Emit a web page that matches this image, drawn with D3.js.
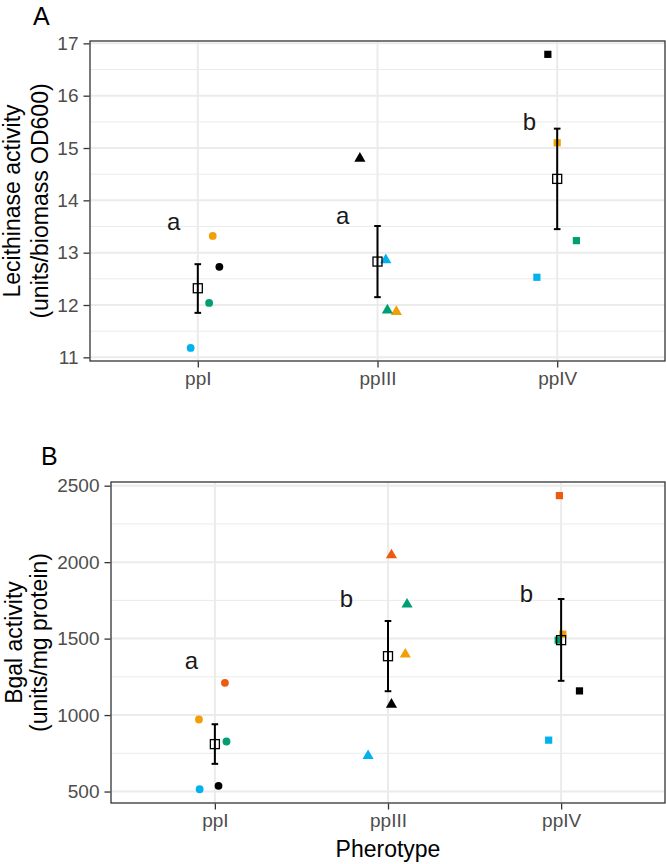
<!DOCTYPE html>
<html>
<head>
<meta charset="utf-8">
<script src="https://cdn.jsdelivr.net/npm/d3@7"></script>
<style>
  html, body { margin: 0; padding: 0; background: #fff; }
  svg { display: block; }
  text { font-family: "Liberation Sans", Arial, Helvetica, sans-serif; }
</style>
</head>
<body>
<svg id="chart" width="666" height="864"></svg>
<script>
// ---------- data ----------
const categories = ["ppI", "ppIII", "ppIV"];
const shapes = ["circle", "triangle", "square"];

const strainColors = {
  black: "#000000",
  orange: "#F29F05",
  green: "#009E73",
  blue: "#00B2EE",
  red: "#EE5A10"
};

// Panel A: Lecithinase activity
const lecTicks = [11, 12, 13, 14, 15, 16, 17];
const lecMinorTicks = [11.5, 12.5, 13.5, 14.5, 15.5, 16.5];
const lecDomain = [10.93, 17.045];
const lecBlack  = [12.73, 14.80, 16.79];
const lecOrange = [13.32, 11.87, 15.10];
const lecGreen  = [12.04, 11.90, 13.23];
const lecBlue   = [11.18, 12.86, 12.53];
const lecJitBlack  = [0.12, -0.098, -0.052];
const lecJitOrange = [0.083, 0.105, 0.0];
const lecJitGreen  = [0.063, 0.055, 0.107];
const lecJitBlue   = [-0.04, 0.046, -0.113];
const lecMean = [12.32, 12.83, 14.41];
const lecLow  = [11.85, 12.15, 13.45];
const lecHigh = [12.78, 13.51, 15.37];
const lecLetters = ["a", "a", "b"];
const lecLetterY = [13.43, 13.55, 15.34];
const lecLetterDx = [-0.135, -0.194, -0.154];

// Panel B: Bgal activity
const bgalTicks = [500, 1000, 1500, 2000, 2500];
const bgalMinorTicks = [750, 1250, 1750, 2250];
const bgalDomain = [425, 2524];
const bgalBlack  = [537, 1069, 1158];
const bgalOrange = [971, 1397, 1529];
const bgalGreen  = [827, 1724, 1490];
const bgalBlue   = [515, 733, 836];
const bgalRed    = [1211, 2046, 2435];
const bgalJitBlack  = [0.021, 0.02, 0.106];
const bgalJitOrange = [-0.092, 0.10, 0.01];
const bgalJitGreen  = [0.067, 0.11, -0.017];
const bgalJitBlue   = [-0.088, -0.115, -0.072];
const bgalJitRed    = [0.058, 0.02, -0.01];
const bgalMean = [810, 1385, 1490];
const bgalLow  = [681, 1156, 1224];
const bgalHigh = [940, 1615, 1759];
const bgalLetters = ["a", "b", "b"];
const bgalLetterY = [1298, 1704, 1737];
const bgalLetterDx = [-0.136, -0.24, -0.2];

// ---------- drawing ----------
const svg = d3.select("#chart");
const FONT = '"Liberation Sans", Arial, Helvetica, sans-serif';

const symbolTypes = {
  circle: d3.symbolCircle,
  triangle: d3.symbolTriangle,
  square: d3.symbolSquare
};
const symbolSizes = { circle: 48, triangle: 54, square: 52 };

function buildPoints(series) {
  const pts = [];
  series.forEach(s => {
    categories.forEach((c, i) => {
      pts.push({ cat: c, idx: i, value: s.values[i], jit: s.jit[i], color: s.color });
    });
  });
  return pts;
}

function drawPanel(cfg) {
  const g = svg.append("g");
  const { left, right, top, bottom } = cfg.box;

  const x = d3.scalePoint().domain(categories).range([left, right]).padding(0.6);
  const y = d3.scaleLinear().domain(cfg.domain).range([bottom, top]);

  g.append("rect").attr("x", left).attr("y", top)
    .attr("width", right - left).attr("height", bottom - top).attr("fill", "#fff");

  g.selectAll(".minor").data(cfg.minor).enter().append("line")
    .attr("x1", left).attr("x2", right)
    .attr("y1", d => y(d)).attr("y2", d => y(d))
    .attr("stroke", "#EBEBEB").attr("stroke-width", 1);
  g.selectAll(".majorY").data(cfg.ticks).enter().append("line")
    .attr("x1", left).attr("x2", right)
    .attr("y1", d => y(d)).attr("y2", d => y(d))
    .attr("stroke", "#EBEBEB").attr("stroke-width", 2);
  g.selectAll(".majorX").data(categories).enter().append("line")
    .attr("x1", d => x(d)).attr("x2", d => x(d))
    .attr("y1", top).attr("y2", bottom)
    .attr("stroke", "#EBEBEB").attr("stroke-width", 2);

  const pts = buildPoints(cfg.series);
  g.selectAll(".pt").data(pts).enter().append("path")
    .attr("d", d => d3.symbol().type(symbolTypes[shapes[d.idx]]).size(symbolSizes[shapes[d.idx]])())
    .attr("transform", d => `translate(${x(d.cat) + d.jit * x.step()},${y(d.value)})`)
    .attr("fill", d => d.color);

  const capW = 3.3;
  categories.forEach((c, i) => {
    const cx = x(c);
    g.append("line").attr("x1", cx).attr("x2", cx)
      .attr("y1", y(cfg.low[i])).attr("y2", y(cfg.high[i]))
      .attr("stroke", "#000").attr("stroke-width", 2);
    [cfg.low[i], cfg.high[i]].forEach(v => {
      g.append("line").attr("x1", cx - capW).attr("x2", cx + capW)
        .attr("y1", y(v)).attr("y2", y(v))
        .attr("stroke", "#000").attr("stroke-width", 2);
    });
    const s = 9;
    g.append("rect").attr("x", cx - s / 2).attr("y", y(cfg.mean[i]) - s / 2)
      .attr("width", s).attr("height", s)
      .attr("fill", "none").attr("stroke", "#000").attr("stroke-width", 1.3);
    g.append("text")
      .attr("x", cx + cfg.letterDx[i] * x.step())
      .attr("y", y(cfg.letterY[i]))
      .attr("text-anchor", "middle")
      .attr("font-size", 24).attr("fill", "#1a1a1a")
      .text(cfg.letters[i]);
  });

  g.append("rect").attr("x", left).attr("y", top)
    .attr("width", right - left).attr("height", bottom - top)
    .attr("fill", "none").attr("stroke", "#333333").attr("stroke-width", 1.3);

  const yAxis = d3.axisLeft(y).tickValues(cfg.ticks).tickSize(6).tickPadding(5)
    .tickFormat(d3.format("d"));
  const ya = g.append("g").attr("transform", `translate(${left - 0.5},0)`).call(yAxis);
  ya.select(".domain").remove();
  ya.selectAll(".tick line").attr("stroke", "#333333").attr("stroke-width", 1.3);
  ya.selectAll(".tick text").attr("fill", "#4D4D4D").attr("font-size", 19)
    .attr("font-family", FONT);

  const xAxis = d3.axisBottom(x).tickSize(6).tickPadding(4);
  const xa = g.append("g").attr("transform", `translate(0,${bottom + 0.5})`).call(xAxis);
  xa.select(".domain").remove();
  xa.selectAll(".tick line").attr("stroke", "#333333").attr("stroke-width", 1.3);
  xa.selectAll(".tick text").attr("fill", "#4D4D4D").attr("font-size", 19)
    .attr("font-family", FONT);

  const cy = (top + bottom) / 2;
  cfg.yTitle.forEach((t, k) => {
    g.append("text")
      .attr("transform", `translate(${cfg.yTitleX[k]},${cy}) rotate(-90)`)
      .attr("text-anchor", "middle")
      .attr("font-size", 23).attr("fill", "#000")
      .text(t);
  });

  g.append("text").attr("x", cfg.tagX).attr("y", cfg.tagY)
    .attr("font-size", 25).attr("fill", "#000").text(cfg.tag);

  return { x, y };
}

drawPanel({
  box: { left: 90, right: 665, top: 41, bottom: 361 },
  domain: lecDomain,
  ticks: lecTicks,
  minor: lecMinorTicks,
  series: [
    { values: lecBlack, jit: lecJitBlack, color: strainColors.black },
    { values: lecOrange, jit: lecJitOrange, color: strainColors.orange },
    { values: lecGreen, jit: lecJitGreen, color: strainColors.green },
    { values: lecBlue, jit: lecJitBlue, color: strainColors.blue }
  ],
  mean: lecMean, low: lecLow, high: lecHigh,
  letters: lecLetters, letterY: lecLetterY, letterDx: lecLetterDx,
  yTitle: ["Lecithinase activity", "(units/biomass OD600)"],
  yTitleX: [20, 48],
  tag: "A", tagX: 33, tagY: 25
});

drawPanel({
  box: { left: 111, right: 665, top: 482, bottom: 803 },
  domain: bgalDomain,
  ticks: bgalTicks,
  minor: bgalMinorTicks,
  series: [
    { values: bgalBlack, jit: bgalJitBlack, color: strainColors.black },
    { values: bgalOrange, jit: bgalJitOrange, color: strainColors.orange },
    { values: bgalGreen, jit: bgalJitGreen, color: strainColors.green },
    { values: bgalBlue, jit: bgalJitBlue, color: strainColors.blue },
    { values: bgalRed, jit: bgalJitRed, color: strainColors.red }
  ],
  mean: bgalMean, low: bgalLow, high: bgalHigh,
  letters: bgalLetters, letterY: bgalLetterY, letterDx: bgalLetterDx,
  yTitle: ["Bgal activity", "(units/mg protein)"],
  yTitleX: [22, 46.5],
  tag: "B", tagX: 41, tagY: 465
});

svg.append("text").attr("x", (111 + 665) / 2).attr("y", 857)
  .attr("text-anchor", "middle").attr("font-size", 23).attr("fill", "#000")
  .attr("font-family", FONT)
  .text("Pherotype");
</script>
</body>
</html>
